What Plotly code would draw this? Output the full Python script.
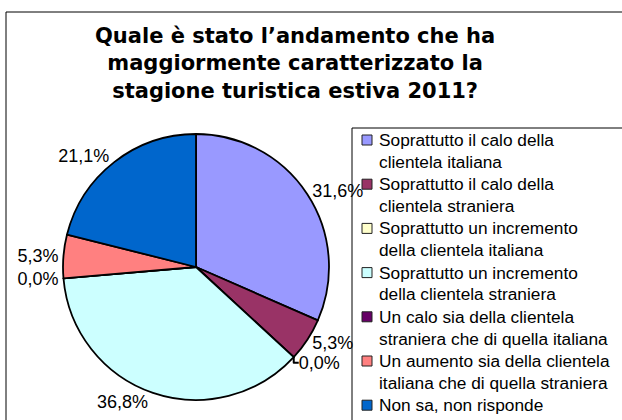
import plotly.graph_objects as go

# ---- data ----
categories = [
    "Soprattutto il calo della<br>clientela italiana",
    "Soprattutto il calo della<br>clientela straniera",
    "Soprattutto un incremento<br>della clientela italiana",
    "Soprattutto un incremento<br>della clientela straniera",
    "Un calo sia della clientela<br>straniera che di quella italiana",
    "Un aumento sia della clientela<br>italiana che di quella straniera",
    "Non sa, non risponde",
]
values = [31.6, 5.3, 0.0, 36.8, 0.0, 5.3, 21.1]
colors = ["#9999FF", "#993366", "#FFFFCC", "#CCFFFF", "#660066", "#FF8080", "#0066CC"]
title_text = ("Quale è stato l’andamento che ha<br>"
              "maggiormente caratterizzato la<br>"
              "stagione turistica estiva 2011?")

W, H = 622, 420
def fx(x):
    return x / W
def fy(y):
    return 1 - y / H

# pie geometry (pixels)
cx, cy, r = 196, 267, 133

fig = go.Figure()
fig.add_trace(go.Pie(
    labels=[c.replace("<br>", " ") for c in categories],
    values=values,
    sort=False,
    direction="clockwise",
    rotation=0,
    marker=dict(colors=colors, line=dict(color="black", width=1.8)),
    textposition="outside",
    texttemplate="%{value:.1f}%",
    textfont=dict(family="Liberation Sans, Arial", size=18, color="black"),
    hoverinfo="label+value",
    domain=dict(x=[fx(cx - r), fx(cx + r)], y=[fy(cy + r), fy(cy - r)]),
    showlegend=False,
))

shapes = [
    # outer chart border
    dict(type="rect", xref="paper", yref="paper",
         x0=fx(6), x1=fx(W + 10), y0=fy(H + 10), y1=fy(12),
         line=dict(color="black", width=1), fillcolor="rgba(0,0,0,0)", layer="below"),
    # legend box
    dict(type="rect", xref="paper", yref="paper",
         x0=fx(352), x1=fx(W + 10), y0=fy(H + 10), y1=fy(128),
         line=dict(color="black", width=1), fillcolor="rgba(0,0,0,0)", layer="below"),
]
annotations = []

# manual legend (tight line spacing as in the reference)
first_y, entry_step, line_step = 140, 44.2, 21.7
for i, (lab, col) in enumerate(zip(categories, colors)):
    y0 = first_y + entry_step * i
    shapes.append(dict(type="rect", xref="paper", yref="paper",
                       x0=fx(362), x1=fx(372), y0=fy(y0 + 5), y1=fy(y0 - 5),
                       line=dict(color="#222222", width=1), fillcolor=col))
    for j, line in enumerate(lab.split("<br>")):
        annotations.append(dict(
            xref="paper", yref="paper", x=fx(377), y=fy(y0 + line_step * j),
            xanchor="left", yanchor="middle", showarrow=False, text=line,
            font=dict(family="Liberation Sans, Arial", size=17.3, color="black")))

# title
annotations.append(dict(
    xref="paper", yref="paper", x=fx(295), y=fy(22),
    xanchor="center", yanchor="top", showarrow=False, text=title_text,
    font=dict(family="DejaVu Sans, Verdana", size=21, color="black", weight="bold")))

fig.update_layout(
    width=W, height=H,
    margin=dict(l=0, r=0, t=0, b=0),
    paper_bgcolor="white",
    plot_bgcolor="white",
    separators=",.",
    shapes=shapes,
    annotations=annotations,
)

fig.write_html("out.html", config={"displayModeBar": False},
               post_script="document.body.style.margin='0';")
